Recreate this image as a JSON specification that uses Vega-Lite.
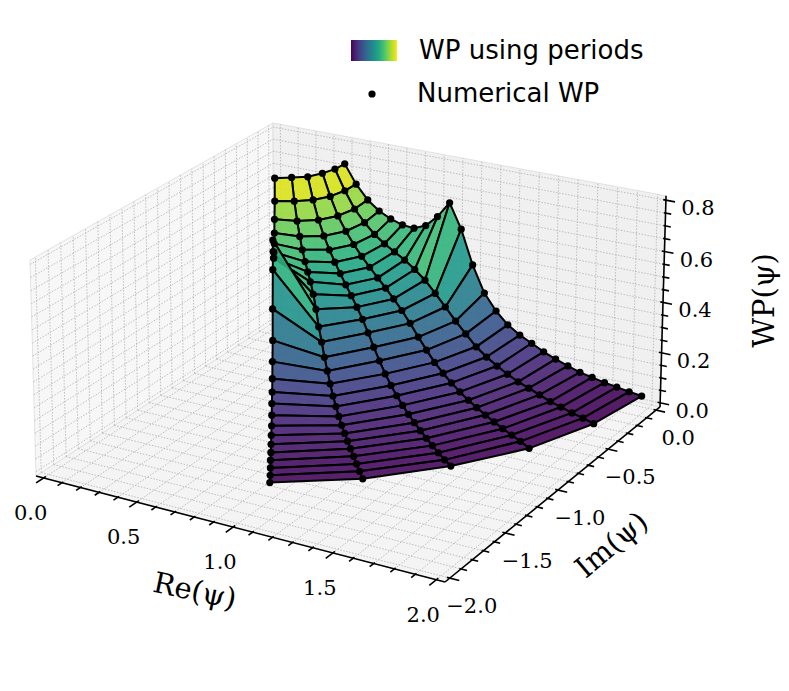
{
  "$schema": "https://vega.github.io/schema/vega-lite/v6.json",
  "width": 789,
  "height": 691,
  "autosize": {"type": "fit", "contains": "padding"},
  "padding": 0,
  "background": "white",
  "config": {"view": {"stroke": null}},
  "resolve": {"scale": {"fill": "independent"}},
  "datasets": {
    "panes": [
      {"pane": "floor", "c": 0, "re": -0.0417, "im": -2.0417, "z": -0.0167},
      {"pane": "floor", "c": 1, "re": 2.0417, "im": -2.0417, "z": -0.0167},
      {"pane": "floor", "c": 2, "re": 2.0417, "im": 0.0417, "z": -0.0167},
      {"pane": "floor", "c": 3, "re": -0.0417, "im": 0.0417, "z": -0.0167},
      {"pane": "left", "c": 0, "re": -0.0417, "im": -2.0417, "z": -0.0167},
      {"pane": "left", "c": 1, "re": -0.0417, "im": 0.0417, "z": -0.0167},
      {"pane": "left", "c": 2, "re": -0.0417, "im": 0.0417, "z": 0.8167},
      {"pane": "left", "c": 3, "re": -0.0417, "im": -2.0417, "z": 0.8167},
      {"pane": "back", "c": 0, "re": -0.0417, "im": 0.0417, "z": -0.0167},
      {"pane": "back", "c": 1, "re": 2.0417, "im": 0.0417, "z": -0.0167},
      {"pane": "back", "c": 2, "re": 2.0417, "im": 0.0417, "z": 0.8167},
      {"pane": "back", "c": 3, "re": -0.0417, "im": 0.0417, "z": 0.8167}
    ],
    "grid": [
      {"g": "fr", "v": [0,0.1,0.2,0.3,0.4,0.5,0.6,0.7,0.8,0.9,1,1.1,1.2,1.3,1.4,1.5,1.6,1.7,1.8,1.9,2]},
      {"g": "fi", "v": [-2,-1.9,-1.8,-1.7,-1.6,-1.5,-1.4,-1.3,-1.2,-1.1,-1,-0.9,-0.8,-0.7,-0.6,-0.5,-0.4,-0.3,-0.2,-0.1,0]},
      {"g": "li", "v": [-2,-1.9,-1.8,-1.7,-1.6,-1.5,-1.4,-1.3,-1.2,-1.1,-1,-0.9,-0.8,-0.7,-0.6,-0.5,-0.4,-0.3,-0.2,-0.1,0]},
      {"g": "lz", "v": [0,0.05,0.1,0.15,0.2,0.25,0.3,0.35,0.4,0.45,0.5,0.55,0.6,0.65,0.7,0.75,0.8]},
      {"g": "br", "v": [0,0.1,0.2,0.3,0.4,0.5,0.6,0.7,0.8,0.9,1,1.1,1.2,1.3,1.4,1.5,1.6,1.7,1.8,1.9,2]},
      {"g": "bz", "v": [0,0.05,0.1,0.15,0.2,0.25,0.3,0.35,0.4,0.45,0.5,0.55,0.6,0.65,0.7,0.75,0.8]}
    ],
    "ticks": [
      {"g": "ar", "s": 0, "v": [0]},
      {"g": "ai", "s": 0, "v": [0]},
      {"g": "az", "s": 0, "v": [0]},
      {"g": "tr", "s": 0.06, "v": [0,0.5,1,1.5,2]},
      {"g": "tr", "s": 0.035, "v": [0.1,0.2,0.3,0.4,0.6,0.7,0.8,0.9,1.1,1.2,1.3,1.4,1.6,1.7,1.8,1.9]},
      {"g": "ti", "s": 0.045, "v": [-2,-1.5,-1,-0.5,0]},
      {"g": "ti", "s": 0.028, "v": [-1.9,-1.8,-1.7,-1.6,-1.4,-1.3,-1.2,-1.1,-0.9,-0.8,-0.7,-0.6,-0.4,-0.3,-0.2,-0.1]},
      {"g": "tz", "s": 0.045, "v": [0,0.2,0.4,0.6,0.8]},
      {"g": "tz", "s": 0.028, "v": [0.05,0.1,0.15,0.25,0.3,0.35,0.45,0.5,0.55,0.65,0.7,0.75]}
    ],
    "labels": [
      {"a": "re", "re": 0, "im": -2.0417, "z": -0.0167, "t": "0.0"},
      {"a": "re", "re": 0.5, "im": -2.0417, "z": -0.0167, "t": "0.5"},
      {"a": "re", "re": 1, "im": -2.0417, "z": -0.0167, "t": "1.0"},
      {"a": "re", "re": 1.5, "im": -2.0417, "z": -0.0167, "t": "1.5"},
      {"a": "re", "re": 2, "im": -2.0417, "z": -0.0167, "t": "2.0"},
      {"a": "im", "re": 2.0417, "im": -2, "z": -0.0167, "t": "−2.0"},
      {"a": "im", "re": 2.0417, "im": -1.5, "z": -0.0167, "t": "−1.5"},
      {"a": "im", "re": 2.0417, "im": -1, "z": -0.0167, "t": "−1.0"},
      {"a": "im", "re": 2.0417, "im": -0.5, "z": -0.0167, "t": "−0.5"},
      {"a": "im", "re": 2.0417, "im": 0, "z": -0.0167, "t": "0.0"},
      {"a": "z", "re": 2.0417, "im": 0.0417, "z": 0, "t": "0.0"},
      {"a": "z", "re": 2.0417, "im": 0.0417, "z": 0.2, "t": "0.2"},
      {"a": "z", "re": 2.0417, "im": 0.0417, "z": 0.4, "t": "0.4"},
      {"a": "z", "re": 2.0417, "im": 0.0417, "z": 0.6, "t": "0.6"},
      {"a": "z", "re": 2.0417, "im": 0.0417, "z": 0.8, "t": "0.8"},
      {"a": "tre", "re": 1, "im": -2.0417, "z": -0.0167, "t": "Re(ψ)"},
      {"a": "tim", "re": 2.0417, "im": -1, "z": -0.0167, "t": "Im(ψ)"},
      {"a": "tz", "re": 2.0417, "im": 0.0417, "z": 0.4, "t": "WP(ψ)"}
    ],
    "points": [
      {"k":0,"j":5,"re":0.384,"im":0,"wp":0.718},{"k":0,"j":4,"re":0.376,"im":-0.08,"wp":0.716},{"k":0,"j":3,"re":0.351,"im":-0.156,"wp":0.715},{"k":0,"j":2,"re":0.311,"im":-0.226,"wp":0.713},{"k":0,"j":1,"re":0.257,"im":-0.285,"wp":0.718},{"k":0,"j":0,"re":0.192,"im":-0.333,"wp":0.718},
      {"k":1,"j":5,"re":0.447,"im":0,"wp":0.644},{"k":1,"j":4,"re":0.438,"im":-0.093,"wp":0.64},{"k":1,"j":3,"re":0.409,"im":-0.182,"wp":0.636},{"k":1,"j":2,"re":0.362,"im":-0.263,"wp":0.636},{"k":1,"j":1,"re":0.299,"im":-0.332,"wp":0.64},{"k":1,"j":0,"re":0.224,"im":-0.387,"wp":0.644},
      {"k":2,"j":5,"re":0.511,"im":0,"wp":0.589},{"k":2,"j":4,"re":0.499,"im":-0.106,"wp":0.578},{"k":2,"j":3,"re":0.466,"im":-0.208,"wp":0.572},{"k":2,"j":2,"re":0.413,"im":-0.3,"wp":0.572},{"k":2,"j":1,"re":0.342,"im":-0.379,"wp":0.578},{"k":2,"j":0,"re":0.255,"im":-0.442,"wp":0.589},
      {"k":3,"j":5,"re":0.574,"im":0,"wp":0.553},{"k":3,"j":4,"re":0.561,"im":-0.119,"wp":0.535},{"k":3,"j":3,"re":0.524,"im":-0.233,"wp":0.525},{"k":3,"j":2,"re":0.464,"im":-0.337,"wp":0.525},{"k":3,"j":1,"re":0.384,"im":-0.426,"wp":0.535},{"k":3,"j":0,"re":0.287,"im":-0.497,"wp":0.553},
      {"k":4,"j":5,"re":0.637,"im":0,"wp":0.53},{"k":4,"j":4,"re":0.623,"im":-0.132,"wp":0.5},{"k":4,"j":3,"re":0.582,"im":-0.259,"wp":0.487},{"k":4,"j":2,"re":0.516,"im":-0.375,"wp":0.487},{"k":4,"j":1,"re":0.426,"im":-0.474,"wp":0.5},{"k":4,"j":0,"re":0.319,"im":-0.552,"wp":0.53},
      {"k":5,"j":5,"re":0.701,"im":0,"wp":0.515},{"k":5,"j":4,"re":0.685,"im":-0.146,"wp":0.475},{"k":5,"j":3,"re":0.64,"im":-0.285,"wp":0.455},{"k":5,"j":2,"re":0.567,"im":-0.412,"wp":0.455},{"k":5,"j":1,"re":0.469,"im":-0.521,"wp":0.472},{"k":5,"j":0,"re":0.35,"im":-0.607,"wp":0.515},
      {"k":6,"j":5,"re":0.764,"im":0,"wp":0.511},{"k":6,"j":4,"re":0.747,"im":-0.159,"wp":0.455},{"k":6,"j":3,"re":0.698,"im":-0.311,"wp":0.427},{"k":6,"j":2,"re":0.618,"im":-0.449,"wp":0.427},{"k":6,"j":1,"re":0.511,"im":-0.568,"wp":0.45},{"k":6,"j":0,"re":0.382,"im":-0.661,"wp":0.511},
      {"k":7,"j":5,"re":0.827,"im":0,"wp":0.531},{"k":7,"j":4,"re":0.809,"im":-0.172,"wp":0.435},{"k":7,"j":3,"re":0.756,"im":-0.336,"wp":0.4},{"k":7,"j":2,"re":0.669,"im":-0.486,"wp":0.4},{"k":7,"j":1,"re":0.553,"im":-0.615,"wp":0.43},{"k":7,"j":0,"re":0.414,"im":-0.716,"wp":0.531},
      {"k":8,"j":5,"re":0.89,"im":0,"wp":0.577},{"k":8,"j":4,"re":0.871,"im":-0.185,"wp":0.41},{"k":8,"j":3,"re":0.813,"im":-0.362,"wp":0.375},{"k":8,"j":2,"re":0.72,"im":-0.523,"wp":0.375},{"k":8,"j":1,"re":0.596,"im":-0.662,"wp":0.4},{"k":8,"j":0,"re":0.445,"im":-0.771,"wp":0.577},
      {"k":9,"j":5,"re":0.954,"im":0,"wp":0.642},{"k":9,"j":4,"re":0.933,"im":-0.198,"wp":0.38},{"k":9,"j":3,"re":0.871,"im":-0.388,"wp":0.348},{"k":9,"j":2,"re":0.772,"im":-0.561,"wp":0.348},{"k":9,"j":1,"re":0.638,"im":-0.709,"wp":0.36},{"k":9,"j":0,"re":0.477,"im":-0.826,"wp":0.642},
      {"k":10,"j":5,"re":1.017,"im":0,"wp":0.545},{"k":10,"j":4,"re":0.995,"im":-0.211,"wp":0.34},{"k":10,"j":3,"re":0.929,"im":-0.414,"wp":0.318},{"k":10,"j":2,"re":0.823,"im":-0.598,"wp":0.318},{"k":10,"j":1,"re":0.68,"im":-0.756,"wp":0.31},{"k":10,"j":0,"re":0.509,"im":-0.881,"wp":0.545},
      {"k":11,"j":5,"re":1.08,"im":0,"wp":0.41},{"k":11,"j":4,"re":1.057,"im":-0.225,"wp":0.299},{"k":11,"j":3,"re":0.987,"im":-0.439,"wp":0.283},{"k":11,"j":2,"re":0.874,"im":-0.635,"wp":0.283},{"k":11,"j":1,"re":0.723,"im":-0.803,"wp":0.27},{"k":11,"j":0,"re":0.54,"im":-0.936,"wp":0.41},
      {"k":12,"j":5,"re":1.144,"im":0,"wp":0.306},{"k":12,"j":4,"re":1.119,"im":-0.238,"wp":0.256},{"k":12,"j":3,"re":1.045,"im":-0.465,"wp":0.245},{"k":12,"j":2,"re":0.925,"im":-0.672,"wp":0.245},{"k":12,"j":1,"re":0.765,"im":-0.85,"wp":0.23},{"k":12,"j":0,"re":0.572,"im":-0.99,"wp":0.306},
      {"k":13,"j":5,"re":1.207,"im":0,"wp":0.243},{"k":13,"j":4,"re":1.18,"im":-0.251,"wp":0.218},{"k":13,"j":3,"re":1.103,"im":-0.491,"wp":0.21},{"k":13,"j":2,"re":0.976,"im":-0.709,"wp":0.21},{"k":13,"j":1,"re":0.808,"im":-0.897,"wp":0.197},{"k":13,"j":0,"re":0.603,"im":-1.045,"wp":0.243},
      {"k":14,"j":5,"re":1.27,"im":0,"wp":0.197},{"k":14,"j":4,"re":1.242,"im":-0.264,"wp":0.18},{"k":14,"j":3,"re":1.16,"im":-0.517,"wp":0.178},{"k":14,"j":2,"re":1.028,"im":-0.747,"wp":0.178},{"k":14,"j":1,"re":0.85,"im":-0.944,"wp":0.167},{"k":14,"j":0,"re":0.635,"im":-1.1,"wp":0.197},
      {"k":15,"j":5,"re":1.334,"im":0,"wp":0.166},{"k":15,"j":4,"re":1.304,"im":-0.277,"wp":0.153},{"k":15,"j":3,"re":1.218,"im":-0.542,"wp":0.152},{"k":15,"j":2,"re":1.079,"im":-0.784,"wp":0.152},{"k":15,"j":1,"re":0.892,"im":-0.991,"wp":0.14},{"k":15,"j":0,"re":0.667,"im":-1.155,"wp":0.166},
      {"k":16,"j":5,"re":1.397,"im":0,"wp":0.143},{"k":16,"j":4,"re":1.366,"im":-0.29,"wp":0.131},{"k":16,"j":3,"re":1.276,"im":-0.568,"wp":0.131},{"k":16,"j":2,"re":1.13,"im":-0.821,"wp":0.131},{"k":16,"j":1,"re":0.935,"im":-1.038,"wp":0.12},{"k":16,"j":0,"re":0.698,"im":-1.21,"wp":0.143},
      {"k":17,"j":5,"re":1.46,"im":0,"wp":0.119},{"k":17,"j":4,"re":1.428,"im":-0.304,"wp":0.113},{"k":17,"j":3,"re":1.334,"im":-0.594,"wp":0.113},{"k":17,"j":2,"re":1.181,"im":-0.858,"wp":0.113},{"k":17,"j":1,"re":0.977,"im":-1.085,"wp":0.103},{"k":17,"j":0,"re":0.73,"im":-1.264,"wp":0.119},
      {"k":18,"j":5,"re":1.523,"im":0,"wp":0.1},{"k":18,"j":4,"re":1.49,"im":-0.317,"wp":0.097},{"k":18,"j":3,"re":1.392,"im":-0.62,"wp":0.098},{"k":18,"j":2,"re":1.232,"im":-0.895,"wp":0.098},{"k":18,"j":1,"re":1.019,"im":-1.132,"wp":0.09},{"k":18,"j":0,"re":0.762,"im":-1.319,"wp":0.1},
      {"k":19,"j":5,"re":1.587,"im":0,"wp":0.083},{"k":19,"j":4,"re":1.552,"im":-0.33,"wp":0.086},{"k":19,"j":3,"re":1.449,"im":-0.645,"wp":0.086},{"k":19,"j":2,"re":1.284,"im":-0.933,"wp":0.086},{"k":19,"j":1,"re":1.062,"im":-1.179,"wp":0.08},{"k":19,"j":0,"re":0.793,"im":-1.374,"wp":0.085},
      {"k":20,"j":5,"re":1.65,"im":0,"wp":0.068},{"k":20,"j":4,"re":1.614,"im":-0.343,"wp":0.074},{"k":20,"j":3,"re":1.507,"im":-0.671,"wp":0.075},{"k":20,"j":2,"re":1.335,"im":-0.97,"wp":0.075},{"k":20,"j":1,"re":1.104,"im":-1.226,"wp":0.072},{"k":20,"j":0,"re":0.825,"im":-1.429,"wp":0.073},
      {"k":21,"j":5,"re":1.713,"im":0,"wp":0.058},{"k":21,"j":4,"re":1.676,"im":-0.356,"wp":0.062},{"k":21,"j":3,"re":1.565,"im":-0.697,"wp":0.066},{"k":21,"j":2,"re":1.386,"im":-1.007,"wp":0.066},{"k":21,"j":1,"re":1.146,"im":-1.273,"wp":0.065},{"k":21,"j":0,"re":0.857,"im":-1.484,"wp":0.064},
      {"k":22,"j":5,"re":1.777,"im":0,"wp":0.048},{"k":22,"j":4,"re":1.738,"im":-0.369,"wp":0.055},{"k":22,"j":3,"re":1.623,"im":-0.723,"wp":0.058},{"k":22,"j":2,"re":1.437,"im":-1.044,"wp":0.058},{"k":22,"j":1,"re":1.189,"im":-1.32,"wp":0.058},{"k":22,"j":0,"re":0.888,"im":-1.539,"wp":0.057},
      {"k":23,"j":5,"re":1.84,"im":0,"wp":0.041},{"k":23,"j":4,"re":1.8,"im":-0.383,"wp":0.047},{"k":23,"j":3,"re":1.681,"im":-0.748,"wp":0.051},{"k":23,"j":2,"re":1.488,"im":-1.081,"wp":0.051},{"k":23,"j":1,"re":1.231,"im":-1.367,"wp":0.051},{"k":23,"j":0,"re":0.92,"im":-1.593,"wp":0.05},
      {"k":24,"j":5,"re":1.903,"im":0,"wp":0.033},{"k":24,"j":4,"re":1.862,"im":-0.396,"wp":0.041},{"k":24,"j":3,"re":1.739,"im":-0.774,"wp":0.045},{"k":24,"j":2,"re":1.54,"im":-1.119,"wp":0.045},{"k":24,"j":1,"re":1.273,"im":-1.414,"wp":0.045},{"k":24,"j":0,"re":0.952,"im":-1.648,"wp":0.045},
      {"k":25,"j":5,"re":1.967,"im":0,"wp":0.027},{"k":25,"j":4,"re":1.923,"im":-0.409,"wp":0.034},{"k":25,"j":3,"re":1.796,"im":-0.8,"wp":0.036},{"k":25,"j":2,"re":1.591,"im":-1.156,"wp":0.042},{"k":25,"j":1,"re":1.316,"im":-1.461,"wp":0.039},{"k":25,"j":0,"re":0.983,"im":-1.703,"wp":0.04}
    ]
  },
  "layer": [
    {
      "data": {"name": "panes"},
      "transform": [
        {"calculate": "(datum.re+0.0417)/2.0833", "as": "xh"},
        {"calculate": "(datum.im+2.0417)/2.0833", "as": "yh"},
        {"calculate": "(datum.z+0.0167)/0.8333", "as": "zh"},
        {"calculate": "1-0.07058*datum.xh+0.09954*datum.yh-0.019141*datum.zh", "as": "w"},
        {"calculate": "(377.59*datum.xh+265.53*datum.yh-6.574*datum.zh+36)/datum.w", "as": "px"},
        {"calculate": "(64.92*datum.xh-122.14*datum.yh-220.98*datum.zh+476)/datum.w", "as": "py"}
      ],
      "mark": {"type": "line", "interpolate": "linear-closed", "stroke": "#dcdcdc", "strokeWidth": 0.8},
      "encoding": {
        "x": {"field": "px", "type": "quantitative", "scale": {"domain": [0, 789], "nice": false, "zero": false}, "axis": null},
        "y": {"field": "py", "type": "quantitative", "scale": {"domain": [691, 0], "nice": false, "zero": false}, "axis": null},
        "order": {"field": "c"},
        "fill": {"field": "pane", "type": "nominal", "scale": {"domain": ["floor", "left", "back"], "range": ["#f4f4f4", "#f7f7f7", "#f0f0f0"]}, "legend": null}
      }
    },
    {
      "data": {"name": "grid"},
      "transform": [
        {"flatten": ["v"]},
        {"calculate": "[0,1]", "as": "es"},
        {"flatten": ["es"], "as": ["e"]},
        {"calculate": "(datum.g=='fr'||datum.g=='br') ? datum.v : (((datum.g=='fi'||datum.g=='bz') && datum.e==1) ? 2.0417 : -0.0417)", "as": "re"},
        {"calculate": "(datum.g=='fi'||datum.g=='li') ? datum.v : ((datum.g=='br'||datum.g=='bz') ? 0.0417 : (datum.e==1 ? 0.0417 : -2.0417))", "as": "im"},
        {"calculate": "(datum.g=='lz'||datum.g=='bz') ? datum.v : (((datum.g=='li'||datum.g=='br') && datum.e==1) ? 0.8167 : -0.0167)", "as": "z"},
        {"calculate": "(datum.re+0.0417)/2.0833", "as": "xh"},
        {"calculate": "(datum.im+2.0417)/2.0833", "as": "yh"},
        {"calculate": "(datum.z+0.0167)/0.8333", "as": "zh"},
        {"calculate": "1-0.07058*datum.xh+0.09954*datum.yh-0.019141*datum.zh", "as": "w"},
        {"calculate": "(377.59*datum.xh+265.53*datum.yh-6.574*datum.zh+36)/datum.w", "as": "px"},
        {"calculate": "(64.92*datum.xh-122.14*datum.yh-220.98*datum.zh+476)/datum.w", "as": "py"}
      ],
      "mark": {"type": "line", "stroke": "#b0b0b0", "strokeWidth": 0.8, "strokeDash": [1.5, 1.5]},
      "encoding": {
        "x": {"field": "px", "type": "quantitative", "scale": {"domain": [0, 789], "nice": false, "zero": false}, "axis": null},
        "y": {"field": "py", "type": "quantitative", "scale": {"domain": [691, 0], "nice": false, "zero": false}, "axis": null},
        "detail": [{"field": "g"}, {"field": "v"}],
        "order": {"field": "e"}
      }
    },
    {
      "data": {"name": "ticks"},
      "transform": [
        {"flatten": ["v"]},
        {"calculate": "[0,1]", "as": "es"},
        {"flatten": ["es"], "as": ["e"]},
        {"calculate": "datum.g=='ar' ? (datum.e==1 ? 2.0417 : -0.0417) : (datum.g=='tr' ? datum.v : ((datum.g=='ti'||datum.g=='tz') ? (datum.e==1 ? 2.0417+datum.s : 2.0417-0.3*datum.s) : 2.0417))", "as": "re"},
        {"calculate": "datum.g=='ai' ? (datum.e==1 ? 0.0417 : -2.0417) : ((datum.g=='az'||datum.g=='tz') ? 0.0417 : (datum.g=='ti' ? datum.v : (datum.g=='tr' ? (datum.e==1 ? -2.0417-datum.s : -2.0417+0.3*datum.s) : -2.0417)))", "as": "im"},
        {"calculate": "datum.g=='az' ? (datum.e==1 ? 0.8167 : -0.0167) : (datum.g=='tz' ? datum.v : -0.0167)", "as": "z"},
        {"calculate": "(datum.re+0.0417)/2.0833", "as": "xh"},
        {"calculate": "(datum.im+2.0417)/2.0833", "as": "yh"},
        {"calculate": "(datum.z+0.0167)/0.8333", "as": "zh"},
        {"calculate": "1-0.07058*datum.xh+0.09954*datum.yh-0.019141*datum.zh", "as": "w"},
        {"calculate": "(377.59*datum.xh+265.53*datum.yh-6.574*datum.zh+36)/datum.w", "as": "px"},
        {"calculate": "(64.92*datum.xh-122.14*datum.yh-220.98*datum.zh+476)/datum.w", "as": "py"}
      ],
      "mark": {"type": "line", "stroke": "black", "strokeWidth": 1.6},
      "encoding": {
        "x": {"field": "px", "type": "quantitative", "scale": {"domain": [0, 789], "nice": false, "zero": false}, "axis": null},
        "y": {"field": "py", "type": "quantitative", "scale": {"domain": [691, 0], "nice": false, "zero": false}, "axis": null},
        "detail": [{"field": "g"}, {"field": "s"}, {"field": "v"}],
        "order": {"field": "e"}
      }
    },
    {
      "data": {"name": "points"},
      "transform": [
        {"calculate": "[0,1,2,3]", "as": "cs"},
        {"flatten": ["cs"], "as": ["c"]},
        {"calculate": "datum.k-((datum.c==1||datum.c==2)?1:0)", "as": "qk"},
        {"calculate": "datum.j-((datum.c==2||datum.c==3)?1:0)", "as": "qj"},
        {"filter": "datum.qk>=0 && datum.qk<25 && datum.qj>=0 && datum.qj<5"},
        {"calculate": "datum.qk*10+datum.qj", "as": "quad"},
        {"joinaggregate": [{"op": "mean", "field": "wp", "as": "zq"}], "groupby": ["quad"]},
        {"calculate": "(datum.re+0.0417)/2.0833", "as": "xh"},
        {"calculate": "(datum.im+2.0417)/2.0833", "as": "yh"},
        {"calculate": "(datum.wp+0.0167)/0.8333", "as": "zh"},
        {"calculate": "1-0.07058*datum.xh+0.09954*datum.yh-0.019141*datum.zh", "as": "w"},
        {"calculate": "(377.59*datum.xh+265.53*datum.yh-6.574*datum.zh+36)/datum.w", "as": "px"},
        {"calculate": "(64.92*datum.xh-122.14*datum.yh-220.98*datum.zh+476)/datum.w", "as": "py"}
      ],
      "mark": {"type": "line", "interpolate": "linear-closed", "stroke": "black", "strokeWidth": 2, "strokeJoin": "round", "fillOpacity": 0.9},
      "encoding": {
        "x": {"field": "px", "type": "quantitative", "scale": {"domain": [0, 789], "nice": false, "zero": false}, "axis": null},
        "y": {"field": "py", "type": "quantitative", "scale": {"domain": [691, 0], "nice": false, "zero": false}, "axis": null},
        "detail": {"field": "quad"},
        "order": {"field": "c"},
        "fill": {
          "field": "zq", "type": "quantitative",
          "scale": {"scheme": "viridis", "domain": [0.027, 0.718]},
          "legend": {
            "orient": "none", "legendX": 351, "legendY": 40, "direction": "horizontal",
            "gradientLength": 46, "gradientThickness": 21, "gradientStrokeWidth": 0,
            "labelOpacity": 0, "labelExpr": "''", "tickCount": 2,
            "title": "WP using periods", "titleOrient": "right", "titlePadding": 22, "titleLimit": 500,
            "titleFont": "DejaVu Sans", "titleFontSize": 26, "titleFontWeight": "normal", "titleColor": "black",
            "titleBaseline": "middle"
          }
        }
      }
    },
    {
      "data": {"name": "points"},
      "transform": [
        {"calculate": "(datum.re+0.0417)/2.0833", "as": "xh"},
        {"calculate": "(datum.im+2.0417)/2.0833", "as": "yh"},
        {"calculate": "(datum.wp+0.0167)/0.8333", "as": "zh"},
        {"calculate": "1-0.07058*datum.xh+0.09954*datum.yh-0.019141*datum.zh", "as": "w"},
        {"calculate": "(377.59*datum.xh+265.53*datum.yh-6.574*datum.zh+36)/datum.w", "as": "px"},
        {"calculate": "(64.92*datum.xh-122.14*datum.yh-220.98*datum.zh+476)/datum.w", "as": "py"}
      ],
      "mark": {"type": "point", "filled": true, "size": 52, "opacity": 1},
      "encoding": {
        "x": {"field": "px", "type": "quantitative", "scale": {"domain": [0, 789], "nice": false, "zero": false}, "axis": null},
        "y": {"field": "py", "type": "quantitative", "scale": {"domain": [691, 0], "nice": false, "zero": false}, "axis": null},
        "color": {
          "datum": "Numerical WP", "type": "nominal",
          "scale": {"range": ["black"]},
          "legend": {
            "orient": "none", "legendX": 359, "legendY": 81, "title": null,
            "labelFont": "DejaVu Sans", "labelFontSize": 26, "labelColor": "black", "labelLimit": 500,
            "symbolSize": 52, "symbolType": "circle", "symbolStrokeWidth": 0, "labelOffset": 32
          }
        }
      }
    },
    {
      "data": {"name": "labels"},
      "transform": [
        {"calculate": "(datum.re+0.0417)/2.0833", "as": "xh"},
        {"calculate": "(datum.im+2.0417)/2.0833", "as": "yh"},
        {"calculate": "(datum.z+0.0167)/0.8333", "as": "zh"},
        {"calculate": "1-0.07058*datum.xh+0.09954*datum.yh-0.019141*datum.zh", "as": "w"},
        {"calculate": "(377.59*datum.xh+265.53*datum.yh-6.574*datum.zh+36)/datum.w", "as": "px"},
        {"calculate": "(64.92*datum.xh-122.14*datum.yh-220.98*datum.zh+476)/datum.w", "as": "py"}
      ],
      "encoding": {
        "x": {"field": "px", "type": "quantitative", "scale": {"domain": [0, 789], "nice": false, "zero": false}, "axis": null},
        "y": {"field": "py", "type": "quantitative", "scale": {"domain": [691, 0], "nice": false, "zero": false}, "axis": null},
        "text": {"field": "t"}
      },
      "layer": [
        {"transform": [{"filter": "datum.a=='re'"}], "mark": {"type": "text", "font": "DejaVu Serif", "fontSize": 21, "align": "center", "baseline": "middle", "dx": -13, "dy": 36, "color": "black"}},
        {"transform": [{"filter": "datum.a=='im'"}], "mark": {"type": "text", "font": "DejaVu Serif", "fontSize": 21, "align": "center", "baseline": "middle", "dx": 22, "dy": 29, "color": "black"}},
        {"transform": [{"filter": "datum.a=='z'"}], "mark": {"type": "text", "font": "DejaVu Serif", "fontSize": 21, "align": "center", "baseline": "middle", "dx": 32, "dy": 9, "color": "black"}},
        {"transform": [{"filter": "datum.a=='tre'"}], "mark": {"type": "text", "font": "DejaVu Serif", "fontSize": 29, "align": "center", "baseline": "middle", "dx": -24, "dy": 71, "angle": 12, "color": "black"}},
        {"transform": [{"filter": "datum.a=='tim'"}], "mark": {"type": "text", "font": "DejaVu Serif", "fontSize": 29, "align": "center", "baseline": "middle", "dx": 6, "dy": 77, "angle": 320, "color": "black"}},
        {"transform": [{"filter": "datum.a=='tz'"}], "mark": {"type": "text", "font": "DejaVu Serif", "fontSize": 29, "align": "center", "baseline": "middle", "dx": 2, "dy": 102, "angle": 270, "color": "black"}}
      ]
    }
  ]
}
